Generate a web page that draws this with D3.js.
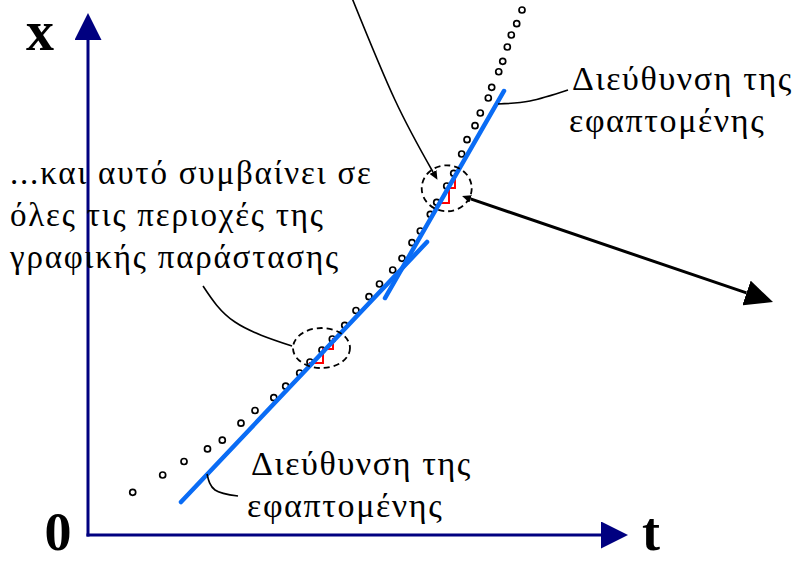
<!DOCTYPE html>
<html lang="en">
<head>
    <meta charset="UTF-8">
    <title>Διεύθυνση της εφαπτομένης</title>
    <style>
        body { margin: 0; background: #fff; }
        text { font-family: "Liberation Serif", "DejaVu Serif", serif; fill: #000; }
    </style>
</head>

<body>

<script src="https://d3js.org/d3.v7.min.js"></script>

<!-- Create a div where the graph will be inserted -->
<div id="my_dataviz"></div>

<script>
    // measured points of the x(t) curve (t and x in 0..100 axis units)
    const dotT = [8.28, 13.83, 17.78, 22.13, 24.87, 28.33, 30.93, 34.41, 36.61, 39.20,
                  41.11, 43.33, 45.24, 47.54, 49.63, 52.04, 53.98, 56.43, 58.15, 60.00,
                  61.54, 63.39, 64.57, 66.43, 67.72, 69.20, 70.19, 71.67, 72.65, 74.13,
                  74.76, 76.06, 76.80, 77.65, 78.39, 79.39, 80.37];
    const dotX = [8.18, 11.49, 14.08, 16.48, 18.16, 21.42, 23.85, 26.30, 28.51, 31.03,
                  33.14, 35.44, 37.55, 40.17, 43.01, 45.65, 48.08, 50.77, 53.01, 56.00,
                  58.24, 61.44, 63.74, 66.86, 69.29, 72.99, 75.73, 78.41, 80.84, 83.72,
                  85.77, 88.75, 90.75, 93.49, 95.79, 97.95, 100.57];

    // the two tangent segments: [start, end]
    const tangentT = [[17.22, 62.78], [55.00, 77.04]];
    const tangentX = [[6.32, 56.13], [45.40, 85.06]];

    // zoomed regions (centres) and the small red steps inside them
    const zoomT = [43.24, 66.43];
    const zoomX = [35.82, 66.42];
    const stepT = [[40.93, 43.52], [43.33, 45.37], [64.81, 66.85], [66.85, 67.96]];
    const stepX = [[32.95, 35.82], [35.63, 37.74], [63.60, 66.48], [66.48, 69.35]];

    // callout curves, three points each
    const calloutT = [[48.89, 56.85, 63.89], [75.93, 81.85, 88.89], [22.04, 23.52, 27.78], [21.30, 27.22, 37.78]];
    const calloutX = [[102.87, 83.33, 69.54], [82.57, 83.14, 85.25], [11.69, 8.62, 7.47], [47.70, 40.80, 36.21]];

    // black arrow leaving the upper zoom
    const arrowT = [69.80, 126.85];
    const arrowX = [64.75, 44.64];

    // text
    const axisNames = ["x", "t", "0"];
    const noteLines = ["...και αυτό συμβαίνει σε", "όλες τις περιοχές της", "γραφικής παράστασης"];
    const tangentLabel = ["Διεύθυνση της", "εφαπτομένης"];

    const width = 797, height = 562;

    const svg = d3.select("#my_dataviz")
      .append("svg")
        .attr("width", width)
        .attr("height", height);

    // scales
    const t = d3.scaleLinear().domain([0, 100]).range([88, 628]);
    const x = d3.scaleLinear().domain([0, 100]).range([535, 13]);

    const defs = svg.append("defs");
    function head(id, color, len, wid) {
        defs.append("marker")
            .attr("id", id)
            .attr("viewBox", "0 0 10 10")
            .attr("refX", 0).attr("refY", 5)
            .attr("markerUnits", "userSpaceOnUse")
            .attr("markerWidth", len).attr("markerHeight", wid)
            .attr("orient", "auto")
            .attr("preserveAspectRatio", "none")
          .append("path")
            .attr("d", "M0,0 L10,5 L0,10 Z")
            .attr("fill", color);
    }
    head("navy", "#000080", 27, 27);
    head("black", "#000", 28, 26);
    head("small", "#000", 9, 8);

    // axes (no ticks, just arrows)
    const navy = "#000080";
    svg.append("line")
      .attr("x1", t(0) - 1.5).attr("y1", x(0))
      .attr("x2", t(100) - 27).attr("y2", x(0))
      .attr("stroke", navy).attr("stroke-width", 3)
      .attr("marker-end", "url(#navy)");
    svg.append("line")
      .attr("x1", t(0)).attr("y1", x(0) + 1.5)
      .attr("x2", t(0)).attr("y2", x(100) + 27)
      .attr("stroke", navy).attr("stroke-width", 3)
      .attr("marker-end", "url(#navy)");

    svg.append("text").attr("x", 40).attr("y", 50).attr("text-anchor", "middle")
      .attr("font-size", 56).attr("font-weight", "bold").text(axisNames[0]);
    svg.append("text").attr("x", 651).attr("y", 550).attr("text-anchor", "middle")
      .attr("font-size", 54).attr("font-weight", "bold").text(axisNames[1]);
    svg.append("text").attr("x", 58).attr("y", 550).attr("text-anchor", "middle")
      .attr("font-size", 54).attr("font-weight", "bold").text(axisNames[2]);

    // measured points
    svg.append("g")
      .selectAll("circle")
      .data(dotT.map((d, i) => [d, dotX[i]]))
      .join("circle")
        .attr("cx", d => t(d[0]))
        .attr("cy", d => x(d[1]))
        .attr("r", 3)
        .attr("fill", "#fff")
        .attr("stroke", "#000")
        .attr("stroke-width", 1.7);

    // red steps (dt, dx)
    svg.append("g")
      .selectAll("path")
      .data(stepT.map((d, i) => [d, stepX[i]]))
      .join("path")
        .attr("d", d => `M${t(d[0][0])},${x(d[1][0])} H${t(d[0][1])} V${x(d[1][1])}`)
        .attr("fill", "none")
        .attr("stroke", "#ff0000")
        .attr("stroke-width", 2);

    // tangents
    svg.append("g")
      .selectAll("line")
      .data(tangentT.map((d, i) => [d, tangentX[i]]))
      .join("line")
        .attr("x1", d => t(d[0][0])).attr("y1", d => x(d[1][0]))
        .attr("x2", d => t(d[0][1])).attr("y2", d => x(d[1][1]))
        .attr("stroke", "#0a6cf5")
        .attr("stroke-width", 4.5)
        .attr("stroke-linecap", "round");

    // dashed zoom ellipses
    svg.append("g")
      .selectAll("ellipse")
      .data(zoomT.map((d, i) => [d, zoomX[i]]))
      .join("ellipse")
        .attr("cx", d => t(d[0]))
        .attr("cy", d => x(d[1]))
        .attr("rx", (d, i) => i === 0 ? 28.5 : 25)
        .attr("ry", (d, i) => i === 0 ? 20 : 23)
        .attr("fill", "none")
        .attr("stroke", "#000")
        .attr("stroke-width", 1.8)
        .attr("stroke-dasharray", "6,4");

    // callout curves
    const curve = d3.line().curve(d3.curveNatural);
    svg.append("g")
      .selectAll("path")
      .data(calloutT.map((d, i) => d.map((v, j) => [t(v), x(calloutX[i][j])])))
      .join("path")
        .attr("d", d => curve(d))
        .attr("fill", "none")
        .attr("stroke", "#000")
        .attr("stroke-width", 1.6)
        .attr("marker-end", (d, i) => i === 0 ? "url(#small)" : null);

    // black arrow
    const a0 = [t(arrowT[0]), x(arrowX[0])], a1 = [t(arrowT[1]), x(arrowX[1])];
    const len = Math.hypot(a1[0] - a0[0], a1[1] - a0[1]);
    const ux = (a1[0] - a0[0]) / len, uy = (a1[1] - a0[1]) / len;
    svg.append("line")
      .attr("x1", a0[0] + 6 * ux).attr("y1", a0[1] + 6 * uy)
      .attr("x2", a1[0] - 28 * ux).attr("y2", a1[1] - 28 * uy)
      .attr("stroke", "#000").attr("stroke-width", 3)
      .attr("marker-end", "url(#black)");
    svg.append("line")
      .attr("x1", a0[0] + 7 * ux).attr("y1", a0[1] + 7 * uy)
      .attr("x2", a0[0] + 6 * ux).attr("y2", a0[1] + 6 * uy)
      .attr("stroke", "#000").attr("stroke-width", 1)
      .attr("marker-end", "url(#small)");

    // notes
    svg.append("g")
      .selectAll("text")
      .data(noteLines)
      .join("text")
        .attr("x", 10)
        .attr("y", (d, i) => 184 + i * 42)
        .attr("font-size", 33)
        .attr("letter-spacing", 1.8)
        .text(d => d);

    svg.append("g")
      .selectAll("text")
      .data(tangentLabel)
      .join("text")
        .attr("x", (d, i) => i === 0 ? 572 : 569)
        .attr("y", (d, i) => 90 + i * 42)
        .attr("font-size", 34)
        .attr("letter-spacing", 1.6)
        .text(d => d);

    svg.append("g")
      .selectAll("text")
      .data(tangentLabel)
      .join("text")
        .attr("x", (d, i) => i === 0 ? 251 : 247)
        .attr("y", (d, i) => 475 + i * 42)
        .attr("font-size", 34)
        .attr("letter-spacing", 1.6)
        .text(d => d);
</script>

</body>
</html>
